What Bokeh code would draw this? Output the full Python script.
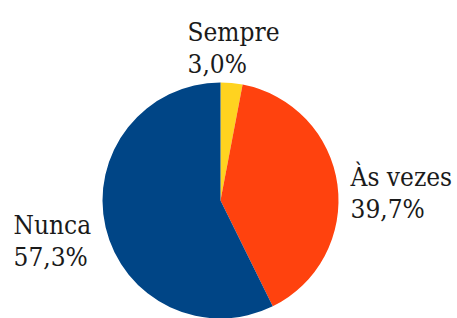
import math
from bokeh.plotting import figure
from bokeh.models import ColumnDataSource, Range1d
from bokeh.core.properties import value
from bokeh.embed import file_html
from bokeh.resources import INLINE

# Data
categories = ["Sempre", "Às vezes", "Nunca"]
percentages = [3.0, 39.7, 57.3]
colors = ["#ffd320", "#ff420e", "#004586"]

W, H = 457, 318
p = figure(width=W, height=H, output_backend="svg", toolbar_location=None,
           x_range=Range1d(0, W), y_range=Range1d(0, H), min_border=0)
p.axis.visible = False
p.grid.visible = False
p.outline_line_color = None
p.background_fill_color = "white"
p.border_fill_color = "white"

def dx(px):
    return px
def dy(py):
    return H - py

cx, cy, r = dx(220), dy(200), 118

total = sum(percentages)
starts, ends = [], []
a = math.pi / 2
for v in percentages:
    starts.append(a)
    a -= v / total * 2 * math.pi
    ends.append(a)

src = ColumnDataSource(dict(start=starts, end=ends, color=colors, cat=categories))
p.wedge(x=cx, y=cy, radius=r, start_angle="start", end_angle="end",
        direction="clock", fill_color="color", line_color=None, source=src)

label_pos = [(187, 31), (350, 176), (13, 224)]
line_gap = 32
pct_text = [f"{v:.1f}".replace(".", ",") + "%" for v in percentages]

xs, ys, texts = [], [], []
for (lx, ly), c, t in zip(label_pos, categories, pct_text):
    xs += [dx(lx), dx(lx)]
    ys += [dy(ly), dy(ly + line_gap)]
    texts += [c, t]

p.text(x=xs, y=ys, text=texts, text_font=value("DejaVu Serif Condensed"),
       text_font_size="26px", text_color="#1a1a1a",
       text_align="left", text_baseline="alphabetic")

open("out.html", "w").write(file_html(p, INLINE))
